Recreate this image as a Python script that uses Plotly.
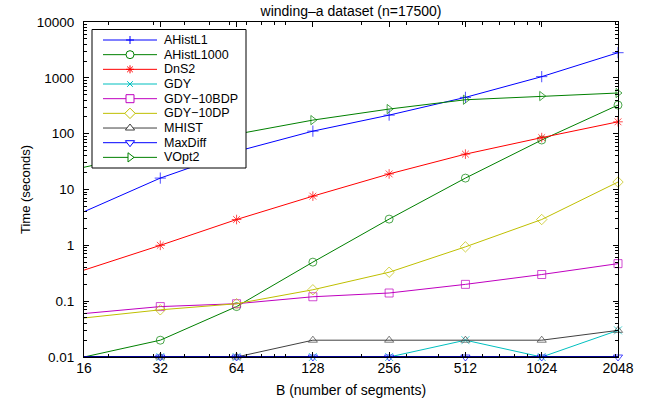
import math
import plotly.graph_objects as go

B = [16, 32, 64, 128, 256, 512, 1024, 2048]
tick_labels = ["16", "32", "64", "128", "256", "512", "1024", "2048"]
y_ticks = [0.01, 0.1, 1, 10, 100, 1000, 10000]
y_tick_labels = ["0.01", "0.1", "1", "10", "100", "1000", "10000"]

ahistl1 = [4.0, 16, 48, 111, 215, 447, 1050, 2820]
ahistl1000 = [0.01, 0.02, 0.08, 0.5, 2.95, 16, 77, 325]
dns2 = [0.36, 1.0, 2.9, 7.6, 19, 43, 85, 163]
gdy = [0.01, 0.01, 0.01, 0.01, 0.01, 0.02, 0.01, 0.03]
gdy_10bdp = [0.06, 0.08, 0.09, 0.12, 0.14, 0.20, 0.30, 0.47]
gdy_10dp = [0.05, 0.07, 0.09, 0.16, 0.33, 0.94, 2.9, 13.6]
mhist = [0.01, 0.01, 0.01, 0.02, 0.02, 0.02, 0.02, 0.03]
maxdiff = [0.01, 0.01, 0.01, 0.01, 0.01, 0.01, 0.01, 0.01]
vopt2 = [25, 50, 98, 175, 276, 405, 472, 535]

series = [
    ("AHistL1", ahistl1, "#0000FF", "cross-thin-open"),
    ("AHistL1000", ahistl1000, "#008000", "circle-open"),
    ("DnS2", dns2, "#FF0000", "asterisk-open"),
    ("GDY", gdy, "#00BFBF", "x-thin-open"),
    ("GDY\u221210BDP", gdy_10bdp, "#BF00BF", "square-open"),
    ("GDY\u221210DP", gdy_10dp, "#BFBF00", "diamond-open"),
    ("MHIST", mhist, "#404040", "triangle-up-open"),
    ("MaxDiff", maxdiff, "#0000FF", "triangle-down-open"),
    ("VOpt2", vopt2, "#008000", "triangle-right-open"),
]

W, H = 652, 403
ML, MR, MT, MB = 84, 34, 22, 46
PW, PH = W - ML - MR, H - MT - MB
MS = 8

fig = go.Figure()
for name, vals, color, sym in series:
    lw = 2 if name == "MaxDiff" else 1
    line_color = "#00008B" if name == "MaxDiff" else color
    sizes = [0] + [MS] * (len(vals) - 1)  # first point's marker is clipped at the left edge
    fig.add_trace(go.Scatter(
        x=B, y=vals, name=name, mode="lines+markers", showlegend=False,
        cliponaxis=False,
        line=dict(color=line_color, width=lw),
        marker=dict(symbol=sym, size=sizes, color=color, line=dict(color=color, width=1)),
    ))

# ---- manual legend drawn as top-layer shapes in a pixel-space overlay axis ----
box_l, box_r, box_t, box_b = 92 - ML, 246 - ML, 29.5 - MT, 168 - MT
row0, row_h = 40 - MT, 14.67
seg_l, seg_r, mark_x, text_x = 103 - ML, 157 - ML, 130 - ML, 162 - ML


def marker_path(sym, cx, cy, r):
    rt = r * 2 / math.sqrt(3)
    r2 = r / 2
    d = r * 0.7071
    if sym == "cross-thin-open":
        return f"M{cx-r},{cy}L{cx+r},{cy}M{cx},{cy-r}L{cx},{cy+r}"
    if sym == "asterisk-open":
        return (f"M{cx-r},{cy}L{cx+r},{cy}M{cx},{cy-r}L{cx},{cy+r}"
                f"M{cx-d},{cy-d}L{cx+d},{cy+d}M{cx-d},{cy+d}L{cx+d},{cy-d}")
    if sym == "x-thin-open":
        return f"M{cx-d},{cy-d}L{cx+d},{cy+d}M{cx-d},{cy+d}L{cx+d},{cy-d}"
    if sym == "square-open":
        return f"M{cx-r},{cy-r}L{cx+r},{cy-r}L{cx+r},{cy+r}L{cx-r},{cy+r}Z"
    if sym == "diamond-open":
        rd = r * 1.3
        return f"M{cx},{cy-rd}L{cx+rd},{cy}L{cx},{cy+rd}L{cx-rd},{cy}Z"
    if sym == "triangle-up-open":
        return f"M{cx-rt},{cy+r2}L{cx+rt},{cy+r2}L{cx},{cy-r}Z"
    if sym == "triangle-down-open":
        return f"M{cx-rt},{cy-r2}L{cx+rt},{cy-r2}L{cx},{cy+r}Z"
    if sym == "triangle-right-open":
        return f"M{cx-r2},{cy-rt}L{cx+r},{cy}L{cx-r2},{cy+rt}Z"
    return ""


shapes = [dict(type="rect", xref="x2", yref="y2", x0=box_l, x1=box_r, y0=box_t, y1=box_b,
               line=dict(color="black", width=1), fillcolor="white", layer="above")]
font = "Liberation Sans, Arial, Helvetica, sans-serif"
annotations = []
for i, (name, vals, color, sym) in enumerate(series):
    yy = row0 + i * row_h
    shapes.append(dict(type="line", xref="x2", yref="y2", x0=seg_l, x1=seg_r, y0=yy, y1=yy,
                       line=dict(color=color, width=1), layer="above"))
    r = MS / 2
    if sym == "circle-open":
        shapes.append(dict(type="circle", xref="x2", yref="y2",
                           x0=mark_x - r, x1=mark_x + r, y0=yy - r, y1=yy + r,
                           line=dict(color=color, width=1), fillcolor="white", layer="above"))
    else:
        closed = sym in ("square-open", "diamond-open", "triangle-up-open",
                         "triangle-down-open", "triangle-right-open")
        shapes.append(dict(type="path", xref="x2", yref="y2",
                           path=marker_path(sym, mark_x, yy, r),
                           line=dict(color=color, width=1),
                           fillcolor="white" if closed else "rgba(0,0,0,0)", layer="above"))
    annotations.append(dict(
        x=text_x, y=yy, xref="x2", yref="y2", text=name, showarrow=False,
        xanchor="left", yanchor="middle", font=dict(size=12.5, family=font, color="black"),
    ))

fig.update_layout(
    width=W, height=H,
    margin=dict(l=ML, r=MR, t=MT, b=MB, autoexpand=False),
    paper_bgcolor="white", plot_bgcolor="white",
    font=dict(family=font, size=13, color="black"),
    title=dict(text="winding\u2013a dataset (n=17500)", x=(ML + PW / 2) / W, xanchor="center",
               y=1 - 11 / H, yanchor="middle", font=dict(size=14)),
    showlegend=False,
    annotations=annotations,
    shapes=shapes,
    xaxis2=dict(overlaying="x", range=[0, PW], visible=False, fixedrange=True, automargin=False),
    yaxis2=dict(overlaying="y", range=[PH, 0], visible=False, fixedrange=True, automargin=False),
)
fig.layout.xaxis.update(
    type="log", range=[math.log10(B[0]), math.log10(B[-1])],
    tickvals=B, ticktext=tick_labels, tickfont=dict(size=14),
    ticks="inside", ticklen=5, tickcolor="black", ticklabelstandoff=-2,
    showline=True, linecolor="black", linewidth=1, mirror="allticks",
    showgrid=False, zeroline=False, automargin=False,
    minor=dict(ticks="inside", ticklen=3, tickcolor="black", dtick="D1", showgrid=False),
    title=dict(text="B (number of segments)", standoff=10, font=dict(size=14)),
)
fig.layout.yaxis.update(
    type="log", range=[-2, 4],
    tickvals=y_ticks, ticktext=y_tick_labels, tickfont=dict(size=13.5),
    ticks="inside", ticklen=5, tickcolor="black", ticklabelstandoff=6,
    showline=True, linecolor="black", linewidth=1, mirror="allticks",
    showgrid=False, zeroline=False, automargin=False,
    minor=dict(ticks="inside", ticklen=3, tickcolor="black", dtick="D1", showgrid=False),
    title=dict(text="Time (seconds)", standoff=3, font=dict(size=13)),
)
fig.write_html("out.html")
